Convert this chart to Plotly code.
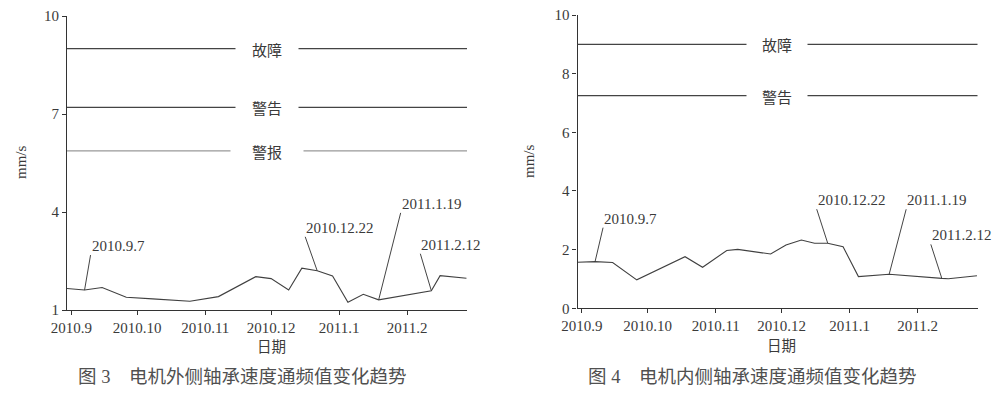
import plotly.graph_objects as go

W, H = 999, 397

# ---------------- data ----------------
dates_out = ["2010-08-30", "2010-09-07", "2010-09-15", "2010-09-26", "2010-10-08",
             "2010-10-25", "2010-11-07", "2010-11-24", "2010-12-01", "2010-12-09",
             "2010-12-15", "2010-12-22", "2010-12-29", "2011-01-05", "2011-01-12",
             "2011-01-19", "2011-02-12", "2011-02-16", "2011-02-28"]
vals_out = [1.66, 1.61, 1.69, 1.39, 1.34, 1.27, 1.41, 2.02, 1.96, 1.61,
            2.28, 2.20, 2.04, 1.24, 1.48, 1.31, 1.59, 2.05, 1.97]

dates_in = ["2010-08-30", "2010-09-07", "2010-09-15", "2010-09-26", "2010-10-18",
            "2010-10-26", "2010-11-06", "2010-11-11", "2010-11-26", "2010-12-03",
            "2010-12-10", "2010-12-16", "2010-12-22", "2010-12-29", "2011-01-05",
            "2011-01-19", "2011-02-12", "2011-02-15", "2011-02-28"]
vals_in = [1.57, 1.59, 1.56, 0.97, 1.76, 1.40, 1.97, 2.01, 1.85, 2.16,
           2.33, 2.22, 2.22, 2.10, 1.08, 1.16, 1.02, 1.01, 1.11]

thr_out_vals = [9.0, 7.2, 5.87]
thr_out_labels = ["故障", "警告", "警报"]
thr_in_vals = [9.0, 7.25]
thr_in_labels = ["故障", "警告"]

marked_dates = ["2010-09-07", "2010-12-22", "2011-01-19", "2011-02-12"]
marked_labels = ["2010.9.7", "2010.12.22", "2011.1.19", "2011.2.12"]

yticks_out = [1, 4, 7, 10]
yticks_in = [0, 2, 4, 6, 8, 10]

caption_out = "图 3\u3000电机外侧轴承速度通频值变化趋势"
caption_in = "图 4\u3000电机内侧轴承速度通频值变化趋势"
x_title = "日期"
y_title = "mm/s"

# ---------------- styling helpers ----------------
def px(x):
    return x / W

def py(y):
    return 1 - y / H

SERIF = "Liberation Serif, Noto Sans CJK SC"
CJK = "Noto Sans CJK SC"
TXT = "#3a3a3a"
LINE = "#404040"

fig = go.Figure()
fig.add_trace(go.Scatter(x=dates_out, y=vals_out, mode="lines",
                         line=dict(color=LINE, width=1.1), xaxis="x", yaxis="y",
                         showlegend=False, hoverinfo="skip"))
fig.add_trace(go.Scatter(x=dates_in, y=vals_in, mode="lines",
                         line=dict(color=LINE, width=1.1), xaxis="x2", yaxis="y2",
                         showlegend=False, hoverinfo="skip"))

xrange = ["2010-08-30", "2011-02-28 06:00"]
common_x = dict(type="date", range=xrange, tickformat="%Y.%-m", dtick="M1",
                tick0="2010-09-01", showline=True, linecolor="#333", linewidth=1.2,
                ticks="outside", ticklen=4, tickcolor="#333", showgrid=False,
                zeroline=False, automargin=False,
                tickfont=dict(family=SERIF, size=15, color=TXT))
common_y = dict(showline=True, linecolor="#333", linewidth=1.2, ticks="outside",
                ticklen=4, tickcolor="#333", showgrid=False, zeroline=False,
                automargin=False, tickfont=dict(family=SERIF, size=15, color=TXT))

fig.update_layout(
    width=W, height=H, margin=dict(l=0, r=0, t=0, b=0, pad=0, autoexpand=False),
    paper_bgcolor="white", plot_bgcolor="white",
    xaxis=dict(domain=[px(67), px(467)], anchor="y", **common_x),
    yaxis=dict(domain=[py(310), py(16)], anchor="x", range=[1, 10],
               tickvals=yticks_out, **common_y),
    xaxis2=dict(domain=[px(577.5), px(977.5)], anchor="y2", **common_x),
    yaxis2=dict(domain=[py(308.3), py(15)], anchor="x2", range=[0, 10],
                tickvals=yticks_in, **common_y),
)

shapes = []
annotations = []

# threshold lines with labels
thr_colors_out = ["#444", "#444", "#999"]
for v, lab, c in zip(thr_out_vals, thr_out_labels, thr_colors_out):
    shapes.append(dict(type="line", xref="x domain", x0=0, x1=1, yref="y", y0=v, y1=v,
                       line=dict(color=c, width=1.2)))
    annotations.append(dict(xref="paper", x=px(267), yref="y", y=v, text=lab,
                            showarrow=False, bgcolor="white", width=60 if lab != "警报" else 70,
                            height=18, font=dict(family=CJK, size=15, color=TXT),
                            xanchor="center", yanchor="middle"))
for v, lab in zip(thr_in_vals, thr_in_labels):
    shapes.append(dict(type="line", xref="x2 domain", x0=0, x1=1, yref="y2", y0=v, y1=v,
                       line=dict(color="#444", width=1.2)))
    annotations.append(dict(xref="paper", x=px(777), yref="y2", y=v, text=lab,
                            showarrow=False, bgcolor="white", width=58, height=18,
                            font=dict(family=CJK, size=15, color=TXT),
                            xanchor="center", yanchor="middle"))

# leader-line callouts
offsets_out = [(6, -35), (-12, -34), (22, -87), (-11, -37)]
offsets_in = [(8, -34), (-11, -34), (17, -65), (-11, -34)]
for (dates, vals, xr, yr, offs) in [(dates_out, vals_out, "x", "y", offsets_out),
                                    (dates_in, vals_in, "x2", "y2", offsets_in)]:
    for d, lab, (ax, ay) in zip(marked_dates, marked_labels, offs):
        v = vals[dates.index(d)]
        annotations.append(dict(xref=xr, yref=yr, x=d, y=v, text=lab, showarrow=True,
                                arrowhead=0, arrowwidth=1, arrowcolor="#444",
                                ax=ax, ay=ay, xanchor="left", yanchor="bottom",
                                borderpad=0, standoff=0,
                                font=dict(family=SERIF, size=15, color=TXT)))

# axis titles
for xc, yc in [(271.5, 345), (781.5, 344)]:
    annotations.append(dict(xref="paper", yref="paper", x=px(xc), y=py(yc), text=x_title,
                            showarrow=False, xanchor="center", yanchor="middle",
                            font=dict(family=CJK, size=14.5, color=TXT)))
for xc, yc in [(21, 162), (529, 161)]:
    annotations.append(dict(xref="paper", yref="paper", x=px(xc), y=py(yc), text=y_title,
                            showarrow=False, xanchor="center", yanchor="middle",
                            textangle=-90, font=dict(family=SERIF, size=15, color=TXT)))

# captions
for xl, yc, cap in [(76, 377, caption_out), (586, 376.5, caption_in)]:
    annotations.append(dict(xref="paper", yref="paper", x=px(xl), y=py(yc), text=cap,
                            showarrow=False, xanchor="left", yanchor="middle",
                            font=dict(family=SERIF, size=18.5, color="#505050")))

fig.update_layout(shapes=shapes, annotations=annotations)
fig.write_html("out.html")
